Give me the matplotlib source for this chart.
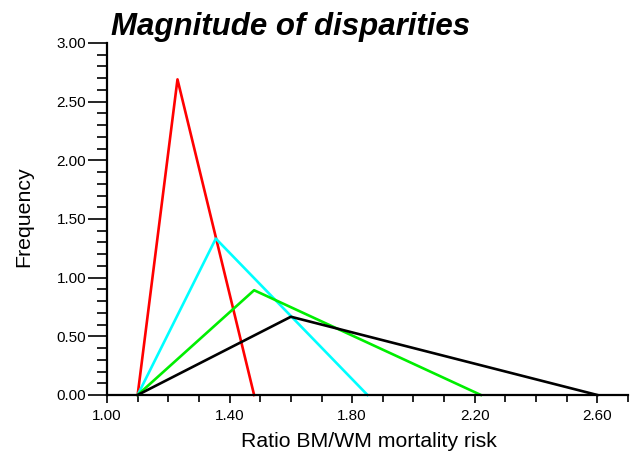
import matplotlib
matplotlib.use("Agg")
import matplotlib.pyplot as plt
from matplotlib.ticker import FixedLocator, MultipleLocator, FormatStrFormatter

plt.rcParams['font.family'] = ['Liberation Sans', 'DejaVu Sans']

# triangular curves: start, peak, end (x) and peak height (y)
red_x = [1.10, 1.23, 1.48]
red_y = [0.0, 2.69, 0.0]
cyan_x = [1.10, 1.355, 1.85]
cyan_y = [0.0, 1.333, 0.0]
green_x = [1.10, 1.48, 2.22]
green_y = [0.0, 0.893, 0.0]
black_x = [1.10, 1.60, 2.60]
black_y = [0.0, 0.667, 0.0]

x_ticks = [1.00, 1.40, 1.80, 2.20, 2.60]
y_ticks = [0.00, 0.50, 1.00, 1.50, 2.00, 2.50, 3.00]

fig = plt.figure(figsize=(6.33, 4.51), dpi=100)
ax = fig.add_axes([107 / 633, 1 - 395 / 451, 521 / 633, 352 / 451])

lw = 1.9
ax.plot(red_x, red_y, color='#ff0000', lw=lw, clip_on=False)
ax.plot(cyan_x, cyan_y, color='#00ffff', lw=lw, clip_on=False)
ax.plot(green_x, green_y, color='#00ee00', lw=lw, clip_on=False)
ax.plot(black_x, black_y, color='black', lw=lw, clip_on=False)

ax.set_xlim(1.0, 2.70)
ax.set_ylim(0.0, 3.0)

for s in ['top', 'right']:
    ax.spines[s].set_visible(False)
for s in ['left', 'bottom']:
    ax.spines[s].set_linewidth(1.6)

ax.xaxis.set_major_locator(FixedLocator(x_ticks))
ax.xaxis.set_minor_locator(MultipleLocator(0.1))
ax.yaxis.set_major_locator(FixedLocator(y_ticks))
ax.yaxis.set_minor_locator(MultipleLocator(0.1))
ax.xaxis.set_major_formatter(FormatStrFormatter('%.2f'))
ax.yaxis.set_major_formatter(FormatStrFormatter('%.2f'))

ax.tick_params(axis='x', which='major', length=6, width=1.2, pad=4, labelsize=11)
ax.tick_params(axis='x', which='minor', length=5, width=1.2)
ax.tick_params(axis='y', which='major', length=14, width=1.2, pad=1, labelsize=11)
ax.tick_params(axis='y', which='minor', length=7, width=1.2)
for lab in ax.get_yticklabels():
    lab.set_va('center_baseline')

# axis titles placed like the reference
fig.text(369 / 633, 1 - 447 / 451, 'Ratio BM/WM mortality risk', fontsize=15.3,
         ha='center', va='baseline')
fig.text(24 / 633, 1 - 217 / 451, 'Frequency', fontsize=15.3, rotation=90,
         ha='center', va='center')
fig.text(111 / 633, 1 - 35 / 451, 'Magnitude of disparities', fontsize=22.5,
         fontweight='bold', fontstyle='italic', ha='left', va='baseline')

fig.savefig('out.png', dpi=100)
